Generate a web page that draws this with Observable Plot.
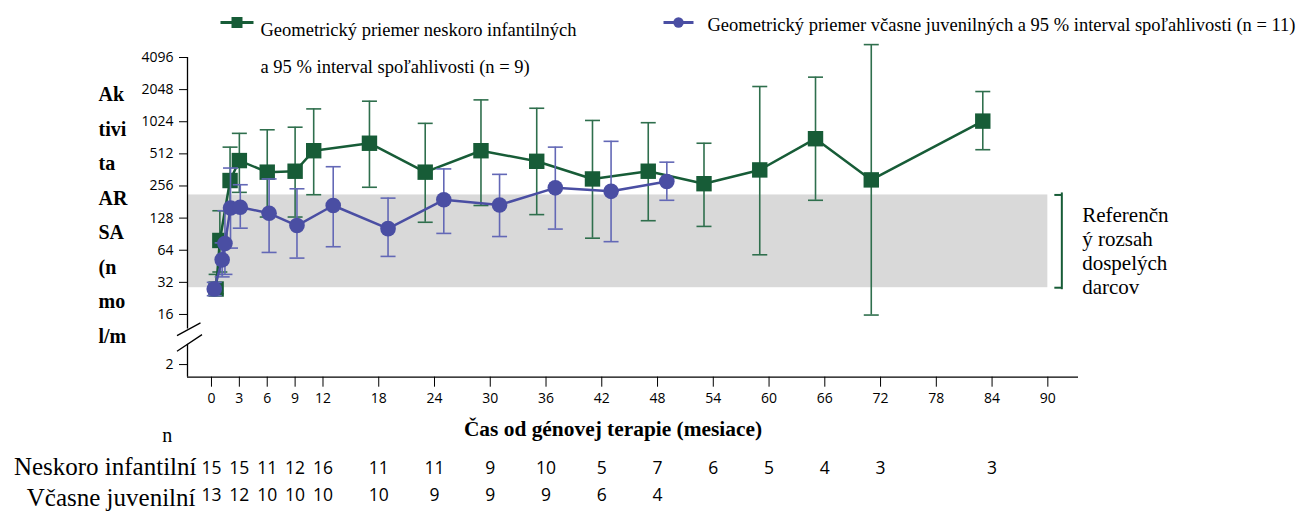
<!DOCTYPE html>
<html><head><meta charset="utf-8">
<script src="https://cdn.jsdelivr.net/npm/d3@7"></script>
<script src="https://cdn.jsdelivr.net/npm/@observablehq/plot@0.6"></script>
<style>html,body{margin:0;padding:0;background:#fff;overflow:hidden}</style>
</head><body><div id="chart"></div>
<script>
// ---- data ----
const infT  = [0.5, 0.9, 2, 3, 6, 9, 11, 17, 23, 29, 35, 41, 47, 53, 59, 65, 71, 83];
const infGM = [27.7, 79, 288, 443, 345, 352, 548, 644, 345, 548, 436, 298, 352, 269, 362, 710, 292, 1038];
const infLo = [25, 40, 150, 223, 131, 131, 212, 249, 117, 168, 138, 83, 121, 107, 58, 188, 15.8, 560];
const infHi = [38, 150, 592, 797, 861, 910, 1351, 1595, 989, 1641, 1370, 1053, 1003, 644, 2190, 2680, 5410, 1965];

const juvT  = [0.3, 1.15, 1.45, 2.05, 3.1, 6.2, 9.2, 13.1, 19, 25, 31, 37, 43, 49];
const juvGM = [27.7, 52, 74, 159, 162, 142, 109, 168, 102, 190, 170, 246, 228, 282];
const juvLo = [24, 36, 38, 67, 103, 61, 54, 69, 56, 92, 86, 101, 77, 188];
const juvHi = [32, 75, 150, 377, 263, 298, 241, 388, 197, 370, 329, 592, 671, 428];

const refRange = [28.5, 211];

const xTicks = [0, 3, 6, 9, 12, 18, 24, 30, 36, 42, 48, 54, 60, 66, 72, 78, 84, 90];
const yTicks = [2, 16, 32, 64, 128, 256, 512, 1024, 2048, 4096];

const nTimesInf = [0, 3, 6, 9, 12, 18, 24, 30, 36, 42, 48, 54, 60, 66, 72, 84];
const nInf      = [15, 15, 11, 12, 16, 11, 11, 9, 10, 5, 7, 6, 5, 4, 3, 3];
const nTimesJuv = [0, 3, 6, 9, 12, 18, 24, 30, 36, 42, 48];
const nJuv      = [13, 12, 10, 10, 10, 10, 9, 9, 9, 6, 4];

const legendInf = ["Geometrický priemer neskoro infantilných", "a 95 % interval spoľahlivosti (n = 9)"];
const legendJuv = "Geometrický priemer včasne juvenilných a 95 % interval spoľahlivosti (n = 11)";
const yTitle = ["Ak", "tivi", "ta", "AR", "SA", "(n", "mo", "l/m"];
const xTitle = "Čas od génovej terapie (mesiace)";
const refLabel = ["Referenčn", "ý rozsah", "dospelých", "darcov"];
const nLabel = "n";
const rowLabels = ["Neskoro infantilní", "Včasne juvenilní"];

// ---- layout / style ----
const green = "#175c37", greenBar = "#2f6f4d";
const blue = "#4a4ea3", blueBar = "#6368b6";
const serif = "Liberation Serif";
const xDomain = [-2.58, 93.3];
const yDomain = [2.047, 12];
const breakTick = 2.44;     // position of the "2" tick below the axis break
const breakCenter = 3.31, breakGap = 0.24;
const bandRight = 90;

const yPos = v => v <= 2 ? breakTick : Math.log2(v);
const tickLabel = new Map(yTicks.map(v => [yPos(v), String(v)]));

const inf = infT.map((t, i) => ({t, gm: infGM[i], lo: infLo[i], hi: infHi[i]}));
const juv = juvT.map((t, i) => ({t, gm: juvGM[i], lo: juvLo[i], hi: juvHi[i]}));
const caps = rows => rows.flatMap(d => [{t: d.t, v: d.lo}, {t: d.t, v: d.hi}]);
const nRowInf = nTimesInf.map((t, i) => ({t, n: nInf[i]}));
const nRowJuv = nTimesJuv.map((t, i) => ({t, n: nJuv[i]}));

const hbar = {draw(ctx, size) { const w = Math.sqrt(size / Math.PI); ctx.moveTo(-w, 0); ctx.lineTo(w, 0); }};
const leftCap = {draw(ctx, size) { const w = Math.sqrt(size / Math.PI); ctx.moveTo(-w, 0); ctx.lineTo(0, 0); }};
const breakSym = {draw(ctx) { ctx.moveTo(-12.5, -1); ctx.lineTo(11, -13.7); ctx.moveTo(-12.5, 14.7); ctx.lineTo(12.5, -2); }};

const errorBars = (rows, color) => [
  Plot.ruleX(rows, {x: "t", y1: d => yPos(d.lo), y2: d => yPos(d.hi), stroke: color, strokeWidth: 1.6}),
  Plot.dot(caps(rows), {x: "t", y: d => yPos(d.v), symbol: hbar, r: 7.5, stroke: color, strokeWidth: 1.6, fill: "none"})
];

const chart = Plot.plot({
  width: 1303, height: 512,
  marginLeft: 187, marginRight: 225, marginTop: 57, marginBottom: 135.3,
  x: {domain: xDomain},
  y: {domain: yDomain},
  style: {fontFamily: "Open Sans", fontSize: "14px", color: "#000", background: "#fff", overflow: "visible"},
  marks: [
    // reference range band
    Plot.rect([refRange], {x1: () => xDomain[0], x2: () => bandRight, y1: d => yPos(d[0]), y2: d => yPos(d[1]), fill: "#d9d9d9"}),
    // axes lines with break
    Plot.ruleY([yDomain[0]], {stroke: "#000", strokeWidth: 1.3}),
    Plot.ruleX([[breakCenter + breakGap, yDomain[1]], [yDomain[0], breakCenter - breakGap]],
      {x: () => xDomain[0], y1: d => d[0], y2: d => d[1], stroke: "#000", strokeWidth: 1.3}),
    Plot.dot([breakCenter], {x: () => xDomain[0], y: d => d, dx: 2, symbol: breakSym, r: 10, stroke: "#000", strokeWidth: 1.3, fill: "none"}),
    Plot.axisX({ticks: xTicks, tickSize: 10, tickPadding: 6, fontSize: 14, label: null}),
    Plot.axisY({ticks: yTicks.map(yPos), tickFormat: d => tickLabel.get(d), tickSize: 8, tickPadding: 6, fontSize: 14, label: null}),
    // series
    ...errorBars(inf, greenBar),
    Plot.line(inf, {x: "t", y: d => yPos(d.gm), stroke: green, strokeWidth: 2.5}),
    Plot.dot(inf, {x: "t", y: d => yPos(d.gm), symbol: "square", r: 8.7, fill: green}),
    ...errorBars(juv, blueBar),
    Plot.line(juv, {x: "t", y: d => yPos(d.gm), stroke: blue, strokeWidth: 2.5}),
    Plot.dot(juv, {x: "t", y: d => yPos(d.gm), symbol: "circle", r: 7.8, fill: blue}),
    // reference bracket + label
    Plot.ruleX([refRange], {x: () => bandRight, dx: 14, y1: d => yPos(d[0]), y2: d => yPos(d[1]), insetTop: 2, insetBottom: 2, stroke: green, strokeWidth: 2}),
    Plot.dot(refRange, {x: () => bandRight, dx: 14, y: d => yPos(d), symbol: leftCap, r: 7.5, stroke: green, strokeWidth: 2, fill: "none"}),
    Plot.text([refLabel.join("\n")], {frameAnchor: "right", dx: 3.7, dy: 33.2, textAnchor: "start", lineAnchor: "middle", lineHeight: 1.133, fontFamily: serif, fontSize: 21, fill: "#000"}),
    // legend
    Plot.dot([0], {frameAnchor: "top-left", dx: 49.5, dy: -35, symbol: hbar, r: 16.5, stroke: green, strokeWidth: 3, fill: "none"}),
    Plot.dot([0], {frameAnchor: "top-left", dx: 49.5, dy: -35, symbol: "square", r: 6.2, fill: green}),
    Plot.text([legendInf.join("\n")], {frameAnchor: "top-left", dx: 73, dy: -14.6, textAnchor: "start", lineAnchor: "middle", lineHeight: 1.984, fontFamily: serif, fontSize: 18.5, fill: "#000"}),
    Plot.dot([0], {frameAnchor: "top-left", dx: 491, dy: -35, symbol: hbar, r: 15, stroke: blue, strokeWidth: 3, fill: "none"}),
    Plot.dot([0], {frameAnchor: "top-left", dx: 491, dy: -35, symbol: "circle", r: 5.2, fill: blue}),
    Plot.text([legendJuv], {frameAnchor: "top-left", dx: 520, dy: -32.9, textAnchor: "start", lineAnchor: "middle", fontFamily: serif, fontSize: 18.5, fill: "#000"}),
    // axis titles
    Plot.text([yTitle.join("\n")], {frameAnchor: "left", dx: -89, dy: -6.4, textAnchor: "start", lineAnchor: "middle", lineHeight: 1.725, fontFamily: serif, fontWeight: "bold", fontSize: 20, fill: "#000"}),
    Plot.text([xTitle], {frameAnchor: "bottom", dx: -20, dy: 51.5, textAnchor: "middle", lineAnchor: "middle", fontFamily: serif, fontWeight: "bold", fontSize: 21.4, fill: "#000"}),
    // n table
    Plot.text([nLabel], {frameAnchor: "bottom-left", dx: -20.3, dy: 58.6, textAnchor: "middle", lineAnchor: "middle", fontFamily: serif, fontSize: 20, fill: "#000"}),
    Plot.text([rowLabels[0]], {frameAnchor: "bottom-left", dx: 9, dy: 89.5, textAnchor: "end", lineAnchor: "middle", fontFamily: serif, fontSize: 25, fill: "#000"}),
    Plot.text([rowLabels[1]], {frameAnchor: "bottom-left", dx: 8, dy: 121, textAnchor: "end", lineAnchor: "middle", fontFamily: serif, fontSize: 25, fill: "#000"}),
    Plot.text(nRowInf, {x: "t", text: "n", frameAnchor: "bottom", dy: 91.3, lineAnchor: "middle", fontSize: 17.5, fill: "#000"}),
    Plot.text(nRowJuv, {x: "t", text: "n", frameAnchor: "bottom", dy: 118, lineAnchor: "middle", fontSize: 17.5, fill: "#000"})
  ]
});
document.getElementById("chart").append(chart);
</script>
</body></html>
